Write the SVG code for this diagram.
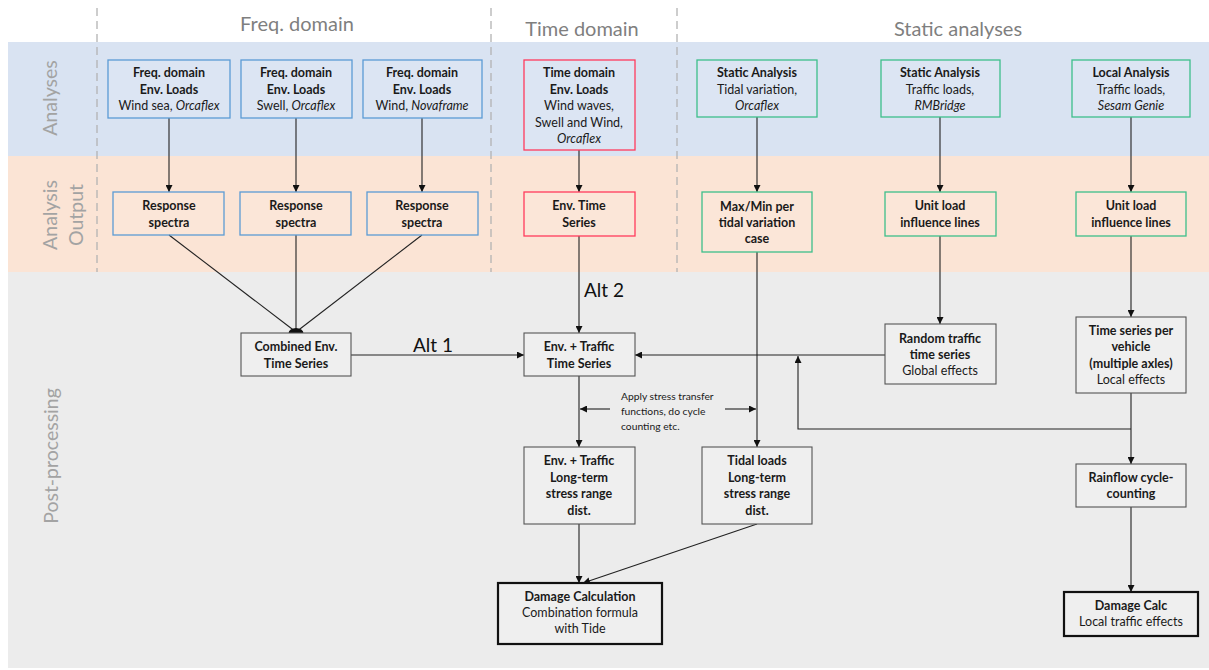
<svg xmlns="http://www.w3.org/2000/svg" width="1209" height="670" viewBox="0 0 1209 670">
<defs>
<marker id="ah" markerUnits="userSpaceOnUse" markerWidth="8" markerHeight="7" refX="7" refY="3.5" orient="auto"><path d="M0,0 L7,3.5 L0,7 z" fill="#111"/></marker>
<style>
.hdr{font-family:Lato,"Liberation Sans",sans-serif;font-size:20px;fill:#7f7f7f;text-anchor:middle}
.side{font-family:Lato,"Liberation Sans",sans-serif;font-size:19.5px;fill:#a3a3a3;text-anchor:middle}
.t{font-family:Lato,"Liberation Sans",sans-serif;font-size:12.5px;fill:#1a1a1a;text-anchor:middle}
.b{font-weight:bold}
.i{font-style:italic}
.sm{font-family:Lato,"Liberation Sans",sans-serif;font-size:10.3px;fill:#1a1a1a}
.alt{font-family:Lato,"Liberation Sans",sans-serif;font-size:19px;fill:#111}
.bl{fill:#ffffff;fill-opacity:0.08;stroke:#5b9bd5;stroke-width:1.3}
.rd{fill:#ffffff;fill-opacity:0.08;stroke:#ff3b5c;stroke-width:1.3}
.gr{fill:#ffffff;fill-opacity:0.08;stroke:#3dbf8a;stroke-width:1.3}
.bk{fill:#efefef;stroke:#555;stroke-width:1.1}
.bkk{fill:#efefef;stroke:#111;stroke-width:2.2}
.c{fill:none;stroke:#222;stroke-width:1.1}
.dash{stroke:#b3b3b3;stroke-width:1.3;stroke-dasharray:8,5}
</style>
</defs>
<rect width="1209" height="670" fill="#fff"/>
<g id="bands">
<rect x="8" y="42" width="1201" height="114" fill="#d9e3f2"/>
<rect x="8" y="156" width="1201" height="116" fill="#fbe4d5"/>
<rect x="8" y="272" width="1201" height="396" fill="#ececec"/>
<line class="dash" x1="97" y1="8" x2="97" y2="272"/>
<line class="dash" x1="491" y1="8" x2="491" y2="272"/>
<line class="dash" x1="677" y1="8" x2="677" y2="272"/>
<text class="hdr" x="297" y="31">Freq. domain</text>
<text class="hdr" x="582" y="36">Time domain</text>
<text class="hdr" x="958" y="36">Static analyses</text>
<text class="side" transform="translate(57,98) rotate(-90)">Analyses</text>
<text class="side" transform="translate(57,215) rotate(-90)">Analysis</text>
<text class="side" transform="translate(83,215) rotate(-90)">Output</text>
<text class="side" transform="translate(58,456) rotate(-90)">Post-processing</text>
</g>
<g id="connectors">
<line class="c" x1="169" y1="118" x2="169" y2="192" marker-end="url(#ah)"/>
<line class="c" x1="296" y1="118" x2="296" y2="192" marker-end="url(#ah)"/>
<line class="c" x1="422" y1="118" x2="422" y2="192" marker-end="url(#ah)"/>
<line class="c" x1="579" y1="150" x2="579" y2="192" marker-end="url(#ah)"/>
<line class="c" x1="757" y1="117" x2="757" y2="192" marker-end="url(#ah)"/>
<line class="c" x1="940" y1="117" x2="940" y2="192" marker-end="url(#ah)"/>
<line class="c" x1="1131" y1="117" x2="1131" y2="192" marker-end="url(#ah)"/>
<line class="c" x1="169" y1="235" x2="296" y2="332"/>
<line class="c" x1="296" y1="235" x2="296" y2="332"/>
<line class="c" x1="422" y1="235" x2="296" y2="332"/>
<path d="M288.5,333.5 A7.5,5.5 0 0 1 303.5,333.5 Z" fill="#111"/>
<line class="c" x1="351" y1="355" x2="524" y2="355" marker-end="url(#ah)"/>
<text class="alt" x="413" y="352">Alt 1</text>
<line class="c" x1="579" y1="236" x2="579" y2="333" marker-end="url(#ah)"/>
<text class="alt" x="584" y="297">Alt 2</text>
<line class="c" x1="885" y1="355" x2="635" y2="355" marker-end="url(#ah)"/>
<line class="c" x1="940" y1="236" x2="940" y2="324" marker-end="url(#ah)"/>
<line class="c" x1="1131" y1="236" x2="1131" y2="317" marker-end="url(#ah)"/>
<polyline class="c" points="1131,429 798,429 798,356" marker-end="url(#ah)"/>
<line class="c" x1="1131" y1="393" x2="1131" y2="464" marker-end="url(#ah)"/>
<line class="c" x1="579" y1="376" x2="579" y2="447" marker-end="url(#ah)"/>
<line class="c" x1="757" y1="252" x2="757" y2="447" marker-end="url(#ah)"/>
<line class="c" x1="610" y1="409" x2="580" y2="409" marker-end="url(#ah)"/>
<line class="c" x1="725" y1="409" x2="756" y2="409" marker-end="url(#ah)"/>
<text class="sm" x="621" y="400">Apply stress transfer</text>
<text class="sm" x="621" y="415">functions, do cycle</text>
<text class="sm" x="621" y="430">counting etc.</text>
<line class="c" x1="579" y1="524" x2="579" y2="583" marker-end="url(#ah)"/>
<line class="c" x1="757" y1="524" x2="583" y2="583" marker-end="url(#ah)"/>
<line class="c" x1="1131" y1="507" x2="1131" y2="592" marker-end="url(#ah)"/>
</g>
<g id="fd1"><rect class="bl" x="108" y="60" width="122" height="58"/><text class="t b" x="169" y="77">Freq. domain</text><text class="t b" x="169" y="94">Env. Loads</text><text class="t" x="169" y="110">Wind sea, <tspan class="i">Orcaflex</tspan></text></g>
<g id="fd2"><rect class="bl" x="241" y="60" width="111" height="58"/><text class="t b" x="296" y="77">Freq. domain</text><text class="t b" x="296" y="94">Env. Loads</text><text class="t" x="296" y="110">Swell, <tspan class="i">Orcaflex</tspan></text></g>
<g id="fd3"><rect class="bl" x="363" y="60" width="119" height="58"/><text class="t b" x="422" y="77">Freq. domain</text><text class="t b" x="422" y="94">Env. Loads</text><text class="t" x="422" y="110">Wind, <tspan class="i">Novaframe</tspan></text></g>
<g id="td"><rect class="rd" x="524" y="60" width="111" height="90"/><text class="t b" x="579" y="77">Time domain</text><text class="t b" x="579" y="94">Env. Loads</text><text class="t" x="579" y="110">Wind waves,</text><text class="t" x="579" y="127">Swell and Wind,</text><text class="t i" x="579" y="143">Orcaflex</text></g>
<g id="sa1"><rect class="gr" x="697" y="60" width="120" height="57"/><text class="t b" x="757" y="77">Static Analysis</text><text class="t" x="757" y="94">Tidal variation,</text><text class="t i" x="757" y="110">Orcaflex</text></g>
<g id="sa2"><rect class="gr" x="881" y="60" width="119" height="57"/><text class="t b" x="940" y="77">Static Analysis</text><text class="t" x="940" y="94">Traffic loads,</text><text class="t i" x="940" y="110">RMBridge</text></g>
<g id="la"><rect class="gr" x="1072" y="60" width="118" height="57"/><text class="t b" x="1131" y="77">Local Analysis</text><text class="t" x="1131" y="94">Traffic loads,</text><text class="t i" x="1131" y="110">Sesam Genie</text></g>
<g id="rs1"><rect class="bl" x="113" y="192" width="111" height="43"/><text class="t b" x="169" y="210">Response</text><text class="t b" x="169" y="227">spectra</text></g>
<g id="rs2"><rect class="bl" x="240" y="192" width="111" height="43"/><text class="t b" x="296" y="210">Response</text><text class="t b" x="296" y="227">spectra</text></g>
<g id="rs3"><rect class="bl" x="367" y="192" width="111" height="43"/><text class="t b" x="422" y="210">Response</text><text class="t b" x="422" y="227">spectra</text></g>
<g id="ets"><rect class="rd" x="524" y="192" width="111" height="44"/><text class="t b" x="579" y="210">Env. Time</text><text class="t b" x="579" y="227">Series</text></g>
<g id="mm"><rect class="gr" x="702" y="192" width="110" height="60"/><text class="t b" x="757" y="211">Max/Min per</text><text class="t b" x="757" y="227">tidal variation</text><text class="t b" x="757" y="243">case</text></g>
<g id="ul1"><rect class="gr" x="885" y="192" width="111" height="44"/><text class="t b" x="940" y="210">Unit load</text><text class="t b" x="940" y="227">influence lines</text></g>
<g id="ul2"><rect class="gr" x="1076" y="192" width="110" height="44"/><text class="t b" x="1131" y="210">Unit load</text><text class="t b" x="1131" y="227">influence lines</text></g>
<g id="cets"><rect class="bk" x="241" y="333" width="110" height="43"/><text class="t b" x="296" y="351">Combined Env.</text><text class="t b" x="296" y="368">Time Series</text></g>
<g id="etts"><rect class="bk" x="524" y="333" width="111" height="43"/><text class="t b" x="579" y="351">Env. + Traffic</text><text class="t b" x="579" y="368">Time Series</text></g>
<g id="rtts"><rect class="bk" x="885" y="324" width="111" height="60"/><text class="t b" x="940" y="343">Random traffic</text><text class="t b" x="940" y="359">time series</text><text class="t" x="940" y="375">Global effects</text></g>
<g id="tspv"><rect class="bk" x="1076" y="317" width="110" height="76"/><text class="t b" x="1131" y="335">Time series per</text><text class="t b" x="1131" y="351">vehicle</text><text class="t b" x="1131" y="368">(multiple axles)</text><text class="t" x="1131" y="384">Local effects</text></g>
<g id="etlt"><rect class="bk" x="524" y="447" width="111" height="77"/><text class="t b" x="579" y="465">Env. + Traffic</text><text class="t b" x="579" y="482">Long-term</text><text class="t b" x="579" y="498">stress range</text><text class="t b" x="579" y="515">dist.</text></g>
<g id="tllt"><rect class="bk" x="702" y="447" width="110" height="77"/><text class="t b" x="757" y="465">Tidal loads</text><text class="t b" x="757" y="482">Long-term</text><text class="t b" x="757" y="498">stress range</text><text class="t b" x="757" y="515">dist.</text></g>
<g id="dmg"><rect class="bkk" x="498" y="583" width="164" height="61"/><text class="t b" x="580" y="601">Damage Calculation</text><text class="t" x="580" y="617">Combination formula</text><text class="t" x="580" y="633">with Tide</text></g>
<g id="rf"><rect class="bk" x="1076" y="464" width="110" height="43"/><text class="t b" x="1131" y="482">Rainflow cycle-</text><text class="t b" x="1131" y="498">counting</text></g>
<g id="dmgl"><rect class="bkk" x="1064" y="592" width="134" height="44"/><text class="t b" x="1131" y="610">Damage Calc</text><text class="t" x="1131" y="626">Local traffic effects</text></g>
</svg>
